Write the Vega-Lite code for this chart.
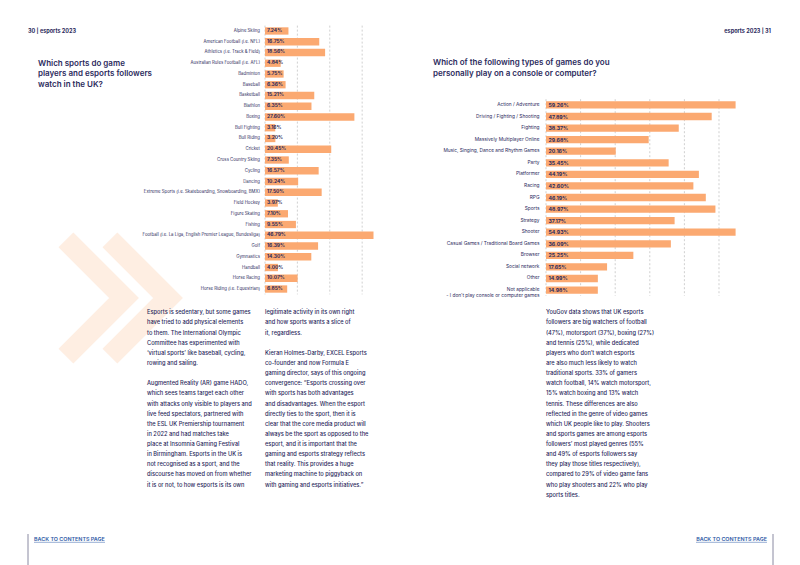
{
  "$schema": "https://vega.github.io/schema/vega-lite/v6.json",
  "width": 800,
  "height": 565,
  "autosize": {"type": "none"},
  "padding": 0,
  "background": "white",
  "config": {"view": {"stroke": null}},
  "datasets": {
    "sports": [
      {"name": "Alpine Skiing", "pct": 7.24, "label": "7.24%"},
      {"name": "American Football (i.e. NFL)", "pct": 16.75, "label": "16.75%"},
      {"name": "Athletics (i.e. Track & Field)", "pct": 18.56, "label": "18.56%"},
      {"name": "Australian Rules Football (i.e. AFL)", "pct": 4.84, "label": "4.84%"},
      {"name": "Badminton", "pct": 5.75, "label": "5.75%"},
      {"name": "Baseball", "pct": 6.36, "label": "6.36%"},
      {"name": "Basketball", "pct": 15.21, "label": "15.21%"},
      {"name": "Biathlon", "pct": 14.35, "label": "6.35%"},
      {"name": "Boxing", "pct": 27.6, "label": "27.60%"},
      {"name": "Bull Fighting", "pct": 3.16, "label": "3.16%"},
      {"name": "Bull Riding", "pct": 3.2, "label": "3.20%"},
      {"name": "Cricket", "pct": 20.45, "label": "20.45%"},
      {"name": "Cross Country Skiing", "pct": 7.35, "label": "7.35%"},
      {"name": "Cycling", "pct": 16.57, "label": "16.57%"},
      {"name": "Dancing", "pct": 10.24, "label": "10.24%"},
      {"name": "Extreme Sports (i.e. Skateboarding, Snowboarding, BMX)", "pct": 17.5, "label": "17.50%"},
      {"name": "Field Hockey", "pct": 3.97, "label": "3.97%"},
      {"name": "Figure Skating", "pct": 7.1, "label": "7.10%"},
      {"name": "Fishing", "pct": 9.55, "label": "9.55%"},
      {"name": "Football (i.e. La Liga, English Premier League, Bundesliga)", "pct": 46.79, "label": "46.79%"},
      {"name": "Golf", "pct": 16.39, "label": "16.39%"},
      {"name": "Gymnastics", "pct": 14.3, "label": "14.30%"},
      {"name": "Handball", "pct": 4.0, "label": "4.00%"},
      {"name": "Horse Racing", "pct": 10.07, "label": "10.07%"},
      {"name": "Horse Riding (i.e. Equestrian)", "pct": 6.85, "label": "6.85%"}
    ],
    "games": [
      {"name": "Action / Adventure", "pct": 59.26, "label": "59.26%"},
      {"name": "Driving / Fighting / Shooting", "pct": 47.89, "label": "47.89%"},
      {"name": "Fighting", "pct": 38.37, "label": "38.37%"},
      {"name": "Massively Multiplayer Online", "pct": 29.68, "label": "29.68%"},
      {"name": "Music, Singing, Dance and Rhythm Games", "pct": 20.16, "label": "20.16%"},
      {"name": "Party", "pct": 35.45, "label": "35.45%"},
      {"name": "Platformer", "pct": 44.19, "label": "44.19%"},
      {"name": "Racing", "pct": 42.6, "label": "42.60%"},
      {"name": "RPG", "pct": 46.19, "label": "46.19%"},
      {"name": "Sports", "pct": 48.97, "label": "48.97%"},
      {"name": "Strategy", "pct": 37.17, "label": "37.17%"},
      {"name": "Shooter", "pct": 54.93, "label": "54.93%"},
      {"name": "Casual Games / Traditional Board Games", "pct": 36.09, "label": "36.09%"},
      {"name": "Browser", "pct": 25.25, "label": "25.25%"},
      {"name": "Social network", "pct": 17.65, "label": "17.65%"},
      {"name": "Other", "pct": 14.99, "label": "14.99%"},
      {"name": "Not applicable\n- I don’t play console or computer games", "pct": 14.98, "label": "14.98%"}
    ],
    "gridL": [{"v": 0}, {"v": 10}, {"v": 20}, {"v": 30}],
    "gridR": [{"v": 0}, {"v": 10}, {"v": 20}, {"v": 30}, {"v": 40}, {"v": 50}],
    "chevrons": [{"k": "a"}, {"k": "b"}],
    "edges": [{"side": "L"}, {"side": "R"}],
    "furniture": [
      {"block": "hdrL", "line": 0, "text": "30 | esports 2023"},
      {"block": "hdrR", "line": 0, "text": "esports 2023 | 31"},
      {"block": "titleL", "line": 0, "text": "Which sports do game"},
      {"block": "titleL", "line": 1, "text": "players and esports followers"},
      {"block": "titleL", "line": 2, "text": "watch in the UK?"},
      {"block": "titleR", "line": 0, "text": "Which of the following types of games do you"},
      {"block": "titleR", "line": 1, "text": "personally play on a console or computer?"},
      {"block": "footL", "line": 0, "text": "BACK TO CONTENTS PAGE"},
      {"block": "footR", "line": 0, "text": "BACK TO CONTENTS PAGE"}
    ],
    "textL": [
      {"col": "a", "line": 0, "text": "Esports is sedentary, but some games"},
      {"col": "a", "line": 1, "text": "have tried to add physical elements"},
      {"col": "a", "line": 2, "text": "to them. The International Olympic"},
      {"col": "a", "line": 3, "text": "Committee has experimented with"},
      {"col": "a", "line": 4, "text": "‘virtual sports’ like baseball, cycling,"},
      {"col": "a", "line": 5, "text": "rowing and sailing."},
      {"col": "a", "line": 7, "text": "Augmented Reality (AR) game HADO,"},
      {"col": "a", "line": 8, "text": "which sees teams target each other"},
      {"col": "a", "line": 9, "text": "with attacks only visible to players and"},
      {"col": "a", "line": 10, "text": "live feed spectators, partnered with"},
      {"col": "a", "line": 11, "text": "the ESL UK Premiership tournament"},
      {"col": "a", "line": 12, "text": "in 2022 and had matches take"},
      {"col": "a", "line": 13, "text": "place at Insomnia Gaming Festival"},
      {"col": "a", "line": 14, "text": "in Birmingham.  Esports in the UK is"},
      {"col": "a", "line": 15, "text": "not recognised as a sport, and the"},
      {"col": "a", "line": 16, "text": "discourse has moved on from whether"},
      {"col": "a", "line": 17, "text": "it is or not, to how esports is its own"},
      {"col": "b", "line": 0, "text": "legitimate activity in its own right"},
      {"col": "b", "line": 1, "text": "and how sports wants a slice of"},
      {"col": "b", "line": 2, "text": "it, regardless."},
      {"col": "b", "line": 4, "text": "Kieran Holmes-Darby, EXCEL Esports"},
      {"col": "b", "line": 5, "text": "co-founder and now Formula E"},
      {"col": "b", "line": 6, "text": "gaming director, says of this ongoing"},
      {"col": "b", "line": 7, "text": "convergence: “Esports crossing over"},
      {"col": "b", "line": 8, "text": "with sports has both advantages"},
      {"col": "b", "line": 9, "text": "and disadvantages. When the esport"},
      {"col": "b", "line": 10, "text": "directly ties to the sport, then it is"},
      {"col": "b", "line": 11, "text": "clear that the core media product will"},
      {"col": "b", "line": 12, "text": "always be the sport as opposed to the"},
      {"col": "b", "line": 13, "text": "esport, and it is important that the"},
      {"col": "b", "line": 14, "text": "gaming and esports strategy reflects"},
      {"col": "b", "line": 15, "text": "that reality. This provides a huge"},
      {"col": "b", "line": 16, "text": "marketing machine to piggyback on"},
      {"col": "b", "line": 17, "text": "with gaming and esports initiatives.”"}
    ],
    "textR": [
      {"col": "c", "line": 0, "text": "YouGov data shows that UK esports"},
      {"col": "c", "line": 1, "text": "followers are big watchers of football"},
      {"col": "c", "line": 2, "text": "(47%), motorsport (37%), boxing (27%)"},
      {"col": "c", "line": 3, "text": "and tennis (25%), while dedicated"},
      {"col": "c", "line": 4, "text": "players who don’t watch esports"},
      {"col": "c", "line": 5, "text": "are also much less likely to watch"},
      {"col": "c", "line": 6, "text": "traditional sports. 33% of gamers"},
      {"col": "c", "line": 7, "text": "watch football, 14% watch motorsport,"},
      {"col": "c", "line": 8, "text": "15% watch boxing and 13% watch"},
      {"col": "c", "line": 9, "text": "tennis. These differences are also"},
      {"col": "c", "line": 10, "text": "reflected in the genre of video games"},
      {"col": "c", "line": 11, "text": "which UK people like to play. Shooters"},
      {"col": "c", "line": 12, "text": "and sports games are among esports"},
      {"col": "c", "line": 13, "text": "followers’ most played genres (55%"},
      {"col": "c", "line": 14, "text": "and 49% of esports followers say"},
      {"col": "c", "line": 15, "text": "they play those titles respectively),"},
      {"col": "c", "line": 16, "text": "compared to 29% of video game fans"},
      {"col": "c", "line": 17, "text": "who play shooters and 22% who play"},
      {"col": "c", "line": 18, "text": "sports titles."}
    ]
  },
  "layer": [
    {
      "data": {"name": "chevrons"},
      "mark": {"type": "point", "shape": "M-0.5,-1L0.5,0L-0.5,1", "filled": false, "stroke": "#FEEEE2", "strokeWidth": 21, "strokeJoin": "miter", "strokeCap": "butt", "size": 13500, "opacity": 1},
      "encoding": {
        "x": {"field": "k", "type": "nominal", "scale": {"type": "point", "domain": ["a", "b"], "range": [95, 139], "padding": 0}, "axis": null},
        "y": {"datum": 0, "type": "quantitative", "scale": {"domain": [0, 1], "range": [298, 299], "nice": false, "zero": false}, "axis": null}
      }
    },
    {
      "layer": [
        {
          "data": {"name": "gridL"},
          "mark": {"type": "rule", "color": "#b0b0b0", "strokeWidth": 0.6, "strokeDash": [2, 2]},
          "encoding": {
            "x": {"field": "v", "type": "quantitative", "scale": {"domain": [0, 33.5], "range": [265, 373.5], "nice": false, "zero": false, "clamp": true}, "axis": null},
            "y": {"datum": 0, "type": "quantitative", "scale": {"domain": [0, 1], "range": [25.6, 294.4], "nice": false, "zero": false}, "axis": null},
            "y2": {"datum": 1}
          }
        },
        {
          "data": {"name": "sports"},
          "mark": {"type": "bar", "color": "#FBA971"},
          "encoding": {
            "y": {"field": "name", "type": "nominal", "sort": null, "scale": {"range": [25.6, 294.4], "paddingInner": 0.32, "paddingOuter": 0.16}, "axis": null},
            "x": {"field": "pct", "type": "quantitative", "scale": {"domain": [0, 33.5], "range": [265, 373.5], "nice": false, "zero": false, "clamp": true}, "axis": null}
          }
        },
        {
          "data": {"name": "sports"},
          "mark": {"type": "text", "align": "left", "baseline": "middle", "dx": 2, "font": "Inter", "fontSize": 4.9, "fontWeight": 700, "color": "#2b2a5c"},
          "encoding": {
            "y": {"field": "name", "type": "nominal", "sort": null, "scale": {"range": [25.6, 294.4], "paddingInner": 0.32, "paddingOuter": 0.16}, "axis": null},
            "x": {"datum": 0, "type": "quantitative", "scale": {"domain": [0, 33.5], "range": [265, 373.5], "nice": false, "zero": false, "clamp": true}, "axis": null},
            "text": {"field": "label"}
          }
        },
        {
          "data": {"name": "sports"},
          "mark": {"type": "text", "align": "right", "baseline": "middle", "dx": -5, "font": "Inter", "fontSize": 4.3, "color": "#2b2a5c"},
          "encoding": {
            "y": {"field": "name", "type": "nominal", "sort": null, "scale": {"range": [25.6, 294.4], "paddingInner": 0.32, "paddingOuter": 0.16}, "axis": null},
            "x": {"datum": 0, "type": "quantitative", "scale": {"domain": [0, 33.5], "range": [265, 373.5], "nice": false, "zero": false, "clamp": true}, "axis": null},
            "text": {"field": "name"}
          }
        }
      ],
      "resolve": {"scale": {"y": "independent"}}
    },
    {
      "layer": [
        {
          "data": {"name": "gridR"},
          "mark": {"type": "rule", "color": "#b0b0b0", "strokeWidth": 0.6, "strokeDash": [2, 2]},
          "encoding": {
            "x": {"field": "v", "type": "quantitative", "scale": {"domain": [0, 54.8], "range": [546, 735.6], "nice": false, "zero": false, "clamp": true}, "axis": null},
            "y": {"datum": 0, "type": "quantitative", "scale": {"domain": [0, 1], "range": [99.2, 295.8], "nice": false, "zero": false}, "axis": null},
            "y2": {"datum": 1}
          }
        },
        {
          "data": {"name": "games"},
          "mark": {"type": "bar", "color": "#FBA971"},
          "encoding": {
            "y": {"field": "name", "type": "nominal", "sort": null, "scale": {"range": [99.2, 295.8], "paddingInner": 0.37, "paddingOuter": 0.18}, "axis": null},
            "x": {"field": "pct", "type": "quantitative", "scale": {"domain": [0, 54.8], "range": [546, 735.6], "nice": false, "zero": false, "clamp": true}, "axis": null}
          }
        },
        {
          "data": {"name": "games"},
          "mark": {"type": "text", "align": "left", "baseline": "middle", "dx": 2.5, "font": "Inter", "fontSize": 5.2, "fontWeight": 700, "color": "#2b2a5c"},
          "encoding": {
            "y": {"field": "name", "type": "nominal", "sort": null, "scale": {"range": [99.2, 295.8], "paddingInner": 0.37, "paddingOuter": 0.18}, "axis": null},
            "x": {"datum": 0, "type": "quantitative", "scale": {"domain": [0, 54.8], "range": [546, 735.6], "nice": false, "zero": false, "clamp": true}, "axis": null},
            "text": {"field": "label"}
          }
        },
        {
          "data": {"name": "games"},
          "mark": {"type": "text", "align": "right", "baseline": "middle", "dx": -6.5, "font": "Inter", "fontSize": 4.8, "lineBreak": "\n", "lineHeight": 6, "color": "#2b2a5c"},
          "encoding": {
            "y": {"field": "name", "type": "nominal", "sort": null, "scale": {"range": [99.2, 295.8], "paddingInner": 0.37, "paddingOuter": 0.18}, "axis": null},
            "x": {"datum": 0, "type": "quantitative", "scale": {"domain": [0, 54.8], "range": [546, 735.6], "nice": false, "zero": false, "clamp": true}, "axis": null},
            "text": {"field": "name"}
          }
        }
      ],
      "resolve": {"scale": {"y": "independent"}}
    },
    {
      "data": {"name": "textL"},
      "mark": {"type": "text", "align": "left", "baseline": "middle", "font": "Inter", "fontSize": 5.7, "fontWeight": 500, "color": "#2b2a5c"},
      "encoding": {
        "x": {"field": "col", "type": "nominal", "scale": {"type": "point", "domain": ["a", "b"], "range": [147, 265], "padding": 0}, "axis": null},
        "y": {"field": "line", "type": "quantitative", "scale": {"domain": [0, 18], "range": [312.3, 494.7], "nice": false, "zero": false}, "axis": null},
        "text": {"field": "text"}
      }
    },
    {
      "data": {"name": "textR"},
      "mark": {"type": "text", "align": "left", "baseline": "middle", "font": "Inter", "fontSize": 5.7, "fontWeight": 500, "color": "#2b2a5c"},
      "encoding": {
        "x": {"field": "col", "type": "nominal", "scale": {"type": "point", "domain": ["c"], "range": [546, 546], "padding": 0}, "axis": null},
        "y": {"field": "line", "type": "quantitative", "scale": {"domain": [0, 18], "range": [312.3, 494.7], "nice": false, "zero": false}, "axis": null},
        "text": {"field": "text"}
      }
    },
    {
      "data": {"name": "furniture"},
      "transform": [{"filter": "datum.block === 'titleL'"}],
      "mark": {"type": "text", "align": "left", "baseline": "middle", "font": "Inter", "fontSize": 8, "fontWeight": 600, "color": "#2b2a5c"},
      "encoding": {
        "x": {"field": "block", "type": "nominal", "scale": {"type": "point", "range": [38, 38], "padding": 0}, "axis": null},
        "y": {"field": "line", "type": "quantitative", "scale": {"domain": [0, 2], "range": [63.5, 85], "nice": false, "zero": false}, "axis": null},
        "text": {"field": "text"}
      }
    },
    {
      "data": {"name": "furniture"},
      "transform": [{"filter": "datum.block === 'titleR'"}],
      "mark": {"type": "text", "align": "left", "baseline": "middle", "font": "Inter", "fontSize": 8, "fontWeight": 600, "color": "#2b2a5c"},
      "encoding": {
        "x": {"field": "block", "type": "nominal", "scale": {"type": "point", "range": [433, 433], "padding": 0}, "axis": null},
        "y": {"field": "line", "type": "quantitative", "scale": {"domain": [0, 1], "range": [63.3, 74.3], "nice": false, "zero": false}, "axis": null},
        "text": {"field": "text"}
      }
    },
    {
      "data": {"name": "furniture"},
      "transform": [{"filter": "datum.block === 'hdrL'"}],
      "mark": {"type": "text", "align": "left", "baseline": "middle", "font": "Inter", "fontSize": 5.5, "fontWeight": 700, "color": "#2b2a5c"},
      "encoding": {
        "x": {"field": "block", "type": "nominal", "scale": {"type": "point", "range": [28, 28], "padding": 0}, "axis": null},
        "y": {"field": "line", "type": "quantitative", "scale": {"domain": [0, 1], "range": [31, 41], "nice": false, "zero": false}, "axis": null},
        "text": {"field": "text"}
      }
    },
    {
      "data": {"name": "furniture"},
      "transform": [{"filter": "datum.block === 'hdrR'"}],
      "mark": {"type": "text", "align": "right", "baseline": "middle", "font": "Inter", "fontSize": 5.5, "fontWeight": 700, "color": "#2b2a5c"},
      "encoding": {
        "x": {"field": "block", "type": "nominal", "scale": {"type": "point", "range": [771, 771], "padding": 0}, "axis": null},
        "y": {"field": "line", "type": "quantitative", "scale": {"domain": [0, 1], "range": [31, 41], "nice": false, "zero": false}, "axis": null},
        "text": {"field": "text"}
      }
    },
    {
      "data": {"name": "furniture"},
      "transform": [{"filter": "datum.block === 'footL'"}],
      "mark": {"type": "text", "align": "left", "baseline": "middle", "font": "Inter", "fontSize": 5.4, "fontWeight": 600, "color": "#2f5aa6"},
      "encoding": {
        "x": {"field": "block", "type": "nominal", "scale": {"type": "point", "range": [34, 34], "padding": 0}, "axis": null},
        "y": {"field": "line", "type": "quantitative", "scale": {"domain": [0, 1], "range": [539, 549], "nice": false, "zero": false}, "axis": null},
        "text": {"field": "text"}
      }
    },
    {
      "data": {"name": "furniture"},
      "transform": [{"filter": "datum.block === 'footR'"}],
      "mark": {"type": "text", "align": "right", "baseline": "middle", "font": "Inter", "fontSize": 5.4, "fontWeight": 600, "color": "#2f5aa6"},
      "encoding": {
        "x": {"field": "block", "type": "nominal", "scale": {"type": "point", "range": [767, 767], "padding": 0}, "axis": null},
        "y": {"field": "line", "type": "quantitative", "scale": {"domain": [0, 1], "range": [539, 549], "nice": false, "zero": false}, "axis": null},
        "text": {"field": "text"}
      }
    },
    {
      "data": {"name": "edges"},
      "transform": [{"filter": "datum.side === 'L'"}],
      "mark": {"type": "rule", "color": "#2f5aa6", "strokeWidth": 0.5},
      "encoding": {
        "x": {"datum": 0, "type": "quantitative", "scale": {"domain": [0, 1], "range": [34, 105], "nice": false, "zero": false}, "axis": null},
        "x2": {"datum": 1},
        "y": {"datum": 0, "type": "quantitative", "scale": {"domain": [0, 1], "range": [542.3, 543], "nice": false, "zero": false}, "axis": null}
      }
    },
    {
      "data": {"name": "edges"},
      "transform": [{"filter": "datum.side === 'R'"}],
      "mark": {"type": "rule", "color": "#2f5aa6", "strokeWidth": 0.5},
      "encoding": {
        "x": {"datum": 0, "type": "quantitative", "scale": {"domain": [0, 1], "range": [696, 767], "nice": false, "zero": false}, "axis": null},
        "x2": {"datum": 1},
        "y": {"datum": 0, "type": "quantitative", "scale": {"domain": [0, 1], "range": [542.3, 543], "nice": false, "zero": false}, "axis": null}
      }
    },
    {
      "data": {"name": "edges"},
      "mark": {"type": "rule", "color": "#6d6d8c", "strokeWidth": 0.8},
      "encoding": {
        "x": {"field": "side", "type": "nominal", "scale": {"type": "point", "domain": ["L", "R"], "range": [28, 773], "padding": 0}, "axis": null},
        "y": {"datum": 0, "type": "quantitative", "scale": {"domain": [0, 1], "range": [534, 565], "nice": false, "zero": false}, "axis": null},
        "y2": {"datum": 1}
      }
    }
  ],
  "resolve": {"scale": {"x": "independent", "y": "independent"}}
}
